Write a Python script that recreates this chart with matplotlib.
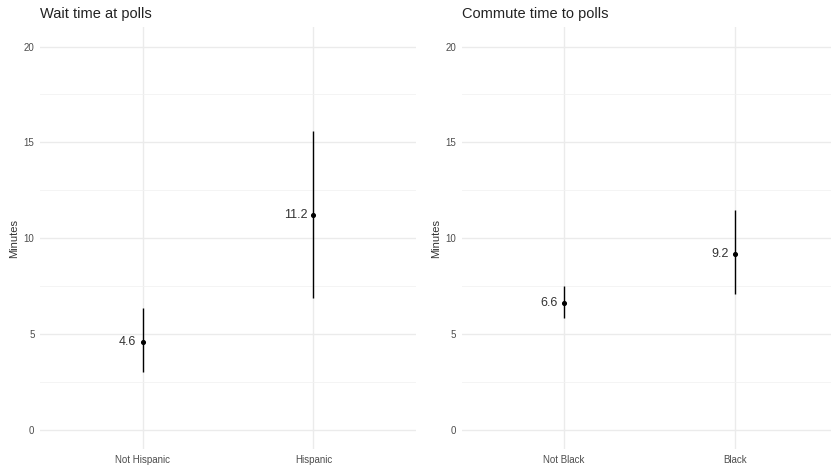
import numpy as np
import matplotlib.pyplot as plt

plt.rcParams['font.family'] = ['Liberation Sans', 'DejaVu Sans']

wait_groups = ['Not Hispanic', 'Hispanic']
wait_mean = [4.6, 11.2]
wait_lo = [3.0, 6.9]
wait_hi = [6.35, 15.6]

commute_groups = ['Not Black', 'Black']
commute_mean = [6.6, 9.2]
commute_lo = [5.85, 7.1]
commute_hi = [7.5, 11.45]

W, H = 831, 468
fig = plt.figure(figsize=(W / 100, H / 100), dpi=100)


def panel(left, right, title, groups, mean, lo, hi, xmax):
    ax = fig.add_axes([left / W, (H - 449) / H, (right - left) / W, (449 - 27.4) / H])
    x = np.arange(1, len(groups) + 1)
    ax.set_xlim(0.4, xmax)
    ax.set_ylim(-1, 21)
    ax.set_yticks([0, 5, 10, 15, 20])
    ax.set_yticks([2.5, 7.5, 12.5, 17.5], minor=True)
    ax.set_xticks(x)
    ax.set_xticklabels(groups)
    ax.grid(which='major', color='#ebebeb', lw=1.0)
    ax.grid(which='minor', axis='y', color='#f2f2f2', lw=0.6)
    ax.set_axisbelow(True)
    for s in ax.spines.values():
        s.set_visible(False)
    ax.tick_params(which='both', length=0, labelsize=7, labelcolor='#4d4d4d', pad=4)
    ax.vlines(x, lo, hi, color='black', lw=1.0)
    ax.scatter(x, mean, s=7, color='black', zorder=3)
    for xi, m in zip(x, mean):
        ax.annotate(f'{m:.1f}', (xi, m), xytext=(-4.5, 0), textcoords='offset points',
                    ha='right', va='center', fontsize=9, color='#333333')
    ax.set_ylabel('Minutes', fontsize=8, color='#333333', labelpad=3)
    fig.text(left / W, 1 - 14 / H, title, fontsize=10.5, color='#222222', va='center', ha='left')
    return ax


panel(40, 416, 'Wait time at polls', wait_groups, wait_mean, wait_lo, wait_hi, 2.6)
panel(461.5, 831, 'Commute time to polls', commute_groups, commute_mean, commute_lo, commute_hi, 2.56)

fig.savefig('out.png', dpi=100)
